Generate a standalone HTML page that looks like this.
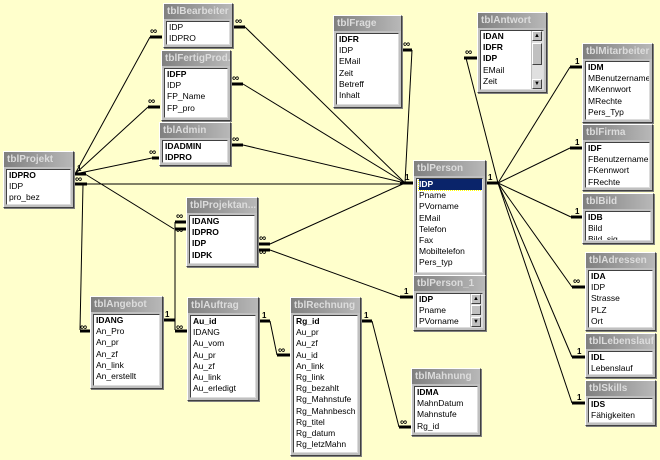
<!DOCTYPE html>
<html><head><meta charset="utf-8"><style>
body{margin:0;width:660px;height:460px;background:#ffffcc;position:relative;overflow:hidden;font-family:"Liberation Sans",Arial,sans-serif;}
svg{position:absolute;left:0;top:0}
.t{position:absolute;background:#c0c0c0;border:1px solid #fff;border-right-color:#404040;border-bottom-color:#404040;box-shadow:1px 1px 0 #808080;box-sizing:border-box;}
.h{height:15px;background:linear-gradient(90deg,#808080,#b8b8b8);color:#dcdcdc;font-size:10px;font-weight:bold;line-height:15px;padding-left:3px;white-space:nowrap;overflow:hidden;}
.b{position:absolute;left:2px;right:2px;top:17px;bottom:2px;background:#fff;border:1px solid #404040;border-right-color:#dcdcdc;border-bottom-color:#dcdcdc;font-size:8.5px;line-height:11.2px;padding-left:2px;overflow:hidden;white-space:nowrap;box-sizing:border-box;}
.k{font-weight:bold}
.sel{background:#0a246a;color:#fff;outline:1px dotted #ff0;}
.sb{position:absolute;right:0;top:0;bottom:0;width:11px;background:#e0e0e0;border-left:1px solid #c0c0c0}
.sb i{position:absolute;left:0;width:10px;height:10px;background:#c0c0c0;border:1px solid #fff;border-right-color:#404040;border-bottom-color:#404040;box-sizing:border-box;font-size:6px;line-height:8px;text-align:center;font-style:normal}
</style></head><body>
<svg width="660" height="460" stroke="#000" stroke-width="1" fill="none">
<g stroke-width="1">
<line x1="75" y1="174" x2="150" y2="37"/><line x1="75" y1="174" x2="148" y2="107"/><line x1="75" y1="174" x2="152" y2="158"/>
<line x1="87" y1="184" x2="400" y2="184"/><line x1="85" y1="174" x2="174" y2="229"/>
<line x1="83" y1="184" x2="80" y2="330"/>
<line x1="245" y1="27" x2="405" y2="183"/><line x1="243" y1="84" x2="405" y2="183"/><line x1="243" y1="145" x2="405" y2="183"/>
<line x1="412" y1="50" x2="405" y2="183"/><line x1="270" y1="244" x2="405" y2="183"/>
<line x1="270" y1="250" x2="400" y2="297"/>
<line x1="175" y1="222" x2="175" y2="330"/>
<line x1="270" y1="321" x2="277" y2="355"/><line x1="372" y1="321" x2="399" y2="427"/>
<line x1="498" y1="183" x2="466" y2="58"/><line x1="498" y1="183" x2="570" y2="67"/><line x1="498" y1="183" x2="570" y2="148"/>
<line x1="498" y1="183" x2="571" y2="217"/><line x1="498" y1="183" x2="572" y2="287"/><line x1="498" y1="183" x2="572" y2="357"/><line x1="498" y1="183" x2="572" y2="403"/>
</g>
<g stroke-width="3">
<line x1="74" y1="174" x2="86" y2="174"/><line x1="74" y1="184" x2="87" y2="184"/>
<line x1="150" y1="37" x2="162" y2="37"/><line x1="148" y1="107" x2="160" y2="107"/><line x1="152" y1="158" x2="159" y2="158"/>
<line x1="233" y1="27" x2="245" y2="27"/><line x1="231" y1="84" x2="243" y2="84"/><line x1="231" y1="145" x2="243" y2="145"/>
<line x1="402" y1="50" x2="412" y2="50"/><line x1="400" y1="183" x2="413" y2="183"/><line x1="486" y1="183" x2="498" y2="183"/>
<line x1="175" y1="222" x2="186" y2="222"/><line x1="175" y1="229" x2="186" y2="229"/>
<line x1="258" y1="244" x2="270" y2="244"/><line x1="258" y1="250" x2="270" y2="250"/>
<line x1="400" y1="297" x2="413" y2="297"/>
<line x1="80" y1="331" x2="90" y2="331"/><line x1="163" y1="320" x2="175" y2="320"/><line x1="175" y1="331" x2="187" y2="331"/>
<line x1="259" y1="321" x2="270" y2="321"/><line x1="277" y1="355" x2="290" y2="355"/>
<line x1="360" y1="321" x2="372" y2="321"/><line x1="399" y1="427" x2="411" y2="427"/>
<line x1="464" y1="58" x2="477" y2="58"/><line x1="570" y1="67" x2="582" y2="67"/><line x1="570" y1="148" x2="582" y2="148"/>
<line x1="571" y1="217" x2="582" y2="217"/><line x1="572" y1="287" x2="585" y2="287"/><line x1="572" y1="357" x2="585" y2="357"/><line x1="572" y1="403" x2="585" y2="403"/>
</g>
<g font-family="Liberation Sans,sans-serif" font-size="10" font-weight="bold" fill="#000" stroke="none">
<text x="77" y="171" font-size="8">1</text><text x="75" y="182">∞</text>
<text x="150" y="34">∞</text><text x="148" y="104">∞</text><text x="149" y="155">∞</text>
<text x="235" y="24">∞</text><text x="232" y="81">∞</text><text x="232" y="142">∞</text>
<text x="403" y="47">∞</text><text x="405" y="180" font-size="8">1</text><text x="488" y="180" font-size="8">1</text>
<text x="176" y="219">∞</text><text x="176" y="233">∞</text>
<text x="259" y="241">∞</text><text x="259" y="255">∞</text>
<text x="404" y="294" font-size="8">1</text>
<text x="80" y="330">∞</text><text x="165" y="317" font-size="8">1</text><text x="176" y="330">∞</text>
<text x="262" y="318" font-size="8">1</text><text x="278" y="353">∞</text>
<text x="364" y="318" font-size="8">1</text><text x="400" y="425">∞</text>
<text x="465" y="55">∞</text><text x="575" y="64" font-size="8">1</text><text x="575" y="145" font-size="8">1</text>
<text x="575" y="214" font-size="8">1</text><text x="573" y="284">∞</text><text x="577" y="354" font-size="8">1</text><text x="577" y="400" font-size="8">1</text>
</g>
</svg>

<div class="t" style="left:163px;top:3px;width:70px;height:45px"><div class="h">tblBearbeiter</div><div class="b">IDP<br>IDPRO</div></div>
<div class="t" style="left:161px;top:50px;width:70px;height:71px"><div class="h">tblFertigProd...</div><div class="b"><span class="k">IDFP</span><br>IDP<br>FP_Name<br>FP_pro</div></div>
<div class="t" style="left:159px;top:122px;width:72px;height:44px"><div class="h">tblAdmin</div><div class="b"><span class="k">IDADMIN<br>IDPRO</span></div></div>
<div class="t" style="left:3px;top:151px;width:71px;height:57px"><div class="h">tblProjekt</div><div class="b"><span class="k">IDPRO</span><br>IDP<br>pro_bez</div></div>
<div class="t" style="left:186px;top:197px;width:72px;height:70px"><div class="h">tblProjektan...</div><div class="b"><span class="k">IDANG<br>IDPRO<br>IDP<br>IDPK</span></div></div>
<div class="t" style="left:333px;top:15px;width:69px;height:93px"><div class="h">tblFrage</div><div class="b"><span class="k">IDFR</span><br>IDP<br>EMail<br>Zeit<br>Betreff<br>Inhalt</div></div>
<div class="t" style="left:477px;top:12px;width:70px;height:81px"><div class="h">tblAntwort</div><div class="b"><span class="k">IDAN<br>IDFR<br>IDP</span><br>EMail<br>Zeit<div class="sb"><i style="top:0">▲</i><i style="top:12px;height:22px"></i><i style="bottom:0">▼</i></div></div></div>
<div class="t" style="left:582px;top:43px;width:71px;height:80px"><div class="h">tblMitarbeiter</div><div class="b"><span class="k">IDM</span><br>MBenutzername<br>MKennwort<br>MRechte<br>Pers_Typ</div></div>
<div class="t" style="left:582px;top:124px;width:71px;height:67px"><div class="h">tblFirma</div><div class="b"><span class="k">IDF</span><br>FBenutzername<br>FKennwort<br>FRechte</div></div>
<div class="t" style="left:582px;top:193px;width:72px;height:51px"><div class="h">tblBild</div><div class="b"><span class="k">IDB</span><br>Bild<br>Bild_sig</div></div>
<div class="t" style="left:413px;top:160px;width:73px;height:116px"><div class="h">tblPerson</div><div class="b"><div class="k sel">IDP</div>Pname<br>PVorname<br>EMail<br>Telefon<br>Fax<br>Mobiltelefon<br>Pers_typ</div></div>
<div class="t" style="left:413px;top:275px;width:73px;height:56px"><div class="h">tblPerson_1</div><div class="b"><span class="k">IDP</span><br>Pname<br>PVorname<div class="sb"><i style="top:0">▲</i><i style="top:11px;height:10px"></i><i style="bottom:0">▼</i></div></div></div>
<div class="t" style="left:585px;top:252px;width:71px;height:79px"><div class="h">tblAdressen</div><div class="b"><span class="k">IDA</span><br>IDP<br>Strasse<br>PLZ<br>Ort</div></div>
<div class="t" style="left:585px;top:333px;width:71px;height:45px"><div class="h">tblLebenslauf</div><div class="b"><span class="k">IDL</span><br>Lebenslauf</div></div>
<div class="t" style="left:585px;top:380px;width:71px;height:46px"><div class="h">tblSkills</div><div class="b"><span class="k">IDS</span><br>Fähigkeiten</div></div>
<div class="t" style="left:90px;top:296px;width:73px;height:93px"><div class="h">tblAngebot</div><div class="b"><span class="k">IDANG</span><br>An_Pro<br>An_pr<br>An_zf<br>An_link<br>An_erstellt</div></div>
<div class="t" style="left:187px;top:297px;width:72px;height:104px"><div class="h">tblAuftrag</div><div class="b"><span class="k">Au_id</span><br>IDANG<br>Au_vom<br>Au_pr<br>Au_zf<br>Au_link<br>Au_erledigt</div></div>
<div class="t" style="left:290px;top:297px;width:71px;height:159px"><div class="h">tblRechnung</div><div class="b"><span class="k">Rg_id</span><br>Au_pr<br>Au_zf<br>Au_id<br>An_link<br>Rg_link<br>Rg_bezahlt<br>Rg_Mahnstufe<br>Rg_Mahnbesch<br>Rg_titel<br>Rg_datum<br>Rg_letzMahn</div></div>
<div class="t" style="left:411px;top:368px;width:70px;height:68px"><div class="h">tblMahnung</div><div class="b"><span class="k">IDMA</span><br>MahnDatum<br>Mahnstufe<br>Rg_id</div></div>
</body></html>
